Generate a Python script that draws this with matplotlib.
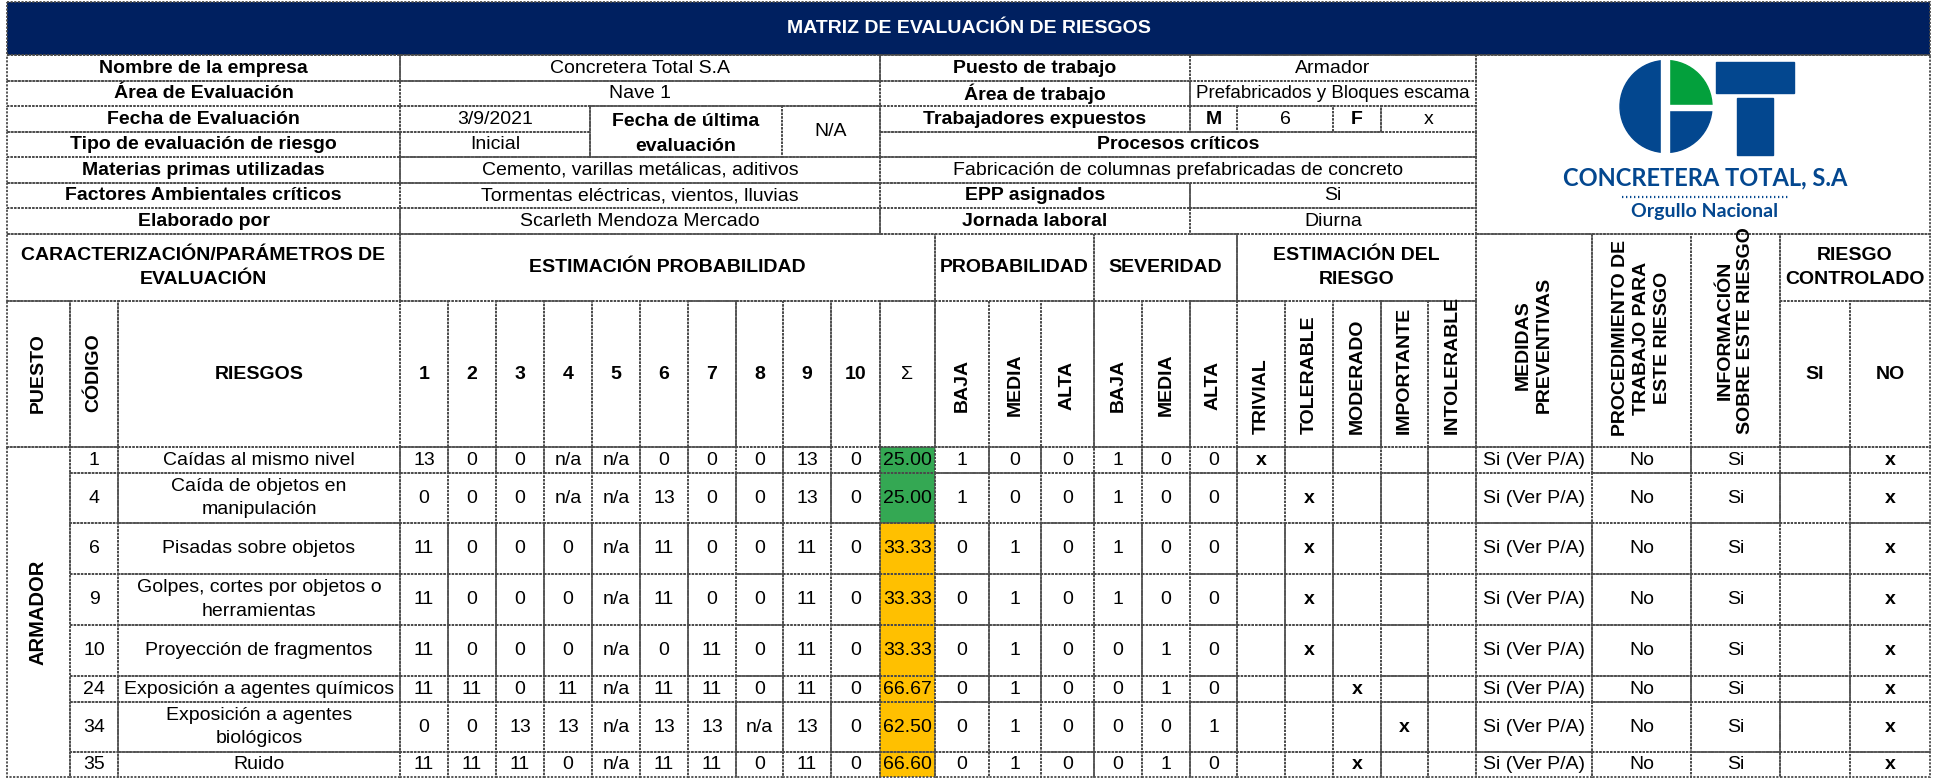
"""
Risk evaluation matrix (Concretera Total S.A) redrawn as a matplotlib table.

Run:
    python plot.py
"""

import matplotlib.pyplot as plt
from matplotlib.patches import Rectangle, Wedge

plt.rcParams["font.family"] = ["Liberation Sans", "DejaVu Sans"]

# ---------------------------------------------------------------- data
title = "MATRIZ DE EVALUACIÓN DE RIESGOS"

info_labels = [
    "Nombre de la empresa",
    "Área de Evaluación",
    "Fecha de Evaluación",
    "Tipo de evaluación de riesgo",
    "Materias primas utilizadas",
    "Factores Ambientales críticos",
    "Elaborado por",
]
info_values = [
    "Concretera Total S.A",
    "Nave 1",
    "3/9/2021",
    "Inicial",
    "Cemento, varillas metálicas, aditivos",
    "Tormentas eléctricas, vientos, lluvias",
    "Scarleth Mendoza Mercado",
]
last_eval_label = ["Fecha de última", "evaluación"]
last_eval_value = "N/A"

job_labels = ["Puesto de trabajo", "Área de trabajo", "Trabajadores expuestos",
              "Procesos críticos", "", "EPP asignados", "Jornada laboral"]
job_values = ["Armador", "Prefabricados y Bloques escama", "", "",
              "Fabricación de columnas prefabricadas de concreto", "Si", "Diurna"]
workers = ["M", "6", "F", "x"]

group_headers = ["CARACTERIZACIÓN/PARÁMETROS DE\nEVALUACIÓN", "ESTIMACIÓN PROBABILIDAD",
                 "PROBABILIDAD", "SEVERIDAD", "ESTIMACIÓN DEL\nRIESGO"]
factor_headers = ["1", "2", "3", "4", "5", "6", "7", "8", "9", "10"]
level_headers = ["BAJA", "MEDIA", "ALTA"]
risk_headers = ["TRIVIAL", "TOLERABLE", "MODERADO", "IMPORTANTE", "INTOLERABLE"]

puesto = "ARMADOR"
codes = [1, 4, 6, 9, 10, 24, 34, 35]
risks = [
    "Caídas al mismo nivel",
    "Caída de objetos en\nmanipulación",
    "Pisadas sobre objetos",
    "Golpes, cortes por objetos o\nherramientas",
    "Proyección de fragmentos",
    "Exposición a agentes químicos",
    "Exposición a agentes\nbiológicos",
    "Ruido",
]
factors = [
    ["13", "0", "0", "n/a", "n/a", "0", "0", "0", "13", "0"],
    ["0", "0", "0", "n/a", "n/a", "13", "0", "0", "13", "0"],
    ["11", "0", "0", "0", "n/a", "11", "0", "0", "11", "0"],
    ["11", "0", "0", "0", "n/a", "11", "0", "0", "11", "0"],
    ["11", "0", "0", "0", "n/a", "0", "11", "0", "11", "0"],
    ["11", "11", "0", "11", "n/a", "11", "11", "0", "11", "0"],
    ["0", "0", "13", "13", "n/a", "13", "13", "n/a", "13", "0"],
    ["11", "11", "11", "0", "n/a", "11", "11", "0", "11", "0"],
]
sigma = [25.00, 25.00, 33.33, 33.33, 33.33, 66.67, 62.50, 66.60]
probability = [0, 0, 1, 1, 1, 1, 1, 1]   # 0 baja, 1 media, 2 alta
severity = [0, 0, 0, 0, 1, 1, 2, 1]
risk_level = [0, 1, 1, 1, 1, 2, 3, 2]    # index into risk_headers
medidas = ["Si (Ver P/A)"] * 8
procedimiento = ["No"] * 8
informacion = ["Si"] * 8
controlado = [False] * 8

# ---------------------------------------------------------------- layout (pixels)
W, H = 1937, 778
LEFT, RIGHT = 7, 1930
INFO_Y = [55, 81, 106, 132, 157, 183, 208, 234]
HEAD_Y = [234, 301, 447]
ROW_Y = [447, 473, 523, 574, 625, 676, 702, 752, 777]
COL_X = [7, 70, 118, 400, 448, 496, 544, 592, 640, 688, 736, 783, 831, 880, 935,
         989, 1041, 1094, 1142, 1190, 1237, 1285, 1333, 1381, 1428, 1476,
         1592, 1691, 1780, 1850, 1930]

NAVY = "#002060"
GREEN = "#34A853"
AMBER = "#FFC000"
LOGO_BLUE = "#03478F"
LOGO_GREEN = "#03A03C"
GRID = dict(edgecolor="#4a4a4a", linewidth=1.3, linestyle=(0, (1.2, 0.8)))
FS = 14
HS = 14

fig = plt.figure(figsize=(W / 100, H / 100), dpi=100)
ax = fig.add_axes([0, 0, 1, 1])
ax.set_xlim(0, W)
ax.set_ylim(H, 0)
ax.axis("off")


def cell(x0, x1, y0, y1, text="", bold=False, size=FS, fill=None, rotation=0,
         va="center", ty=None, color="black", clip=False, spacing=1.5):
    """Draw one bordered cell and its centred text."""
    if fill:
        ax.add_patch(Rectangle((x0, y0), x1 - x0, y1 - y0, facecolor=fill,
                               edgecolor="none", zorder=1))
    box = Rectangle((x0, y0), x1 - x0, y1 - y0, facecolor="none", zorder=2, **GRID)
    ax.add_patch(box)
    if text:
        t = ax.text((x0 + x1) / 2, (y0 + y1) / 2 if ty is None else ty, text,
                    ha="center", va=va, rotation=rotation, fontsize=size,
                    fontweight="bold" if bold else "normal", color=color,
                    multialignment="center", linespacing=spacing, zorder=3)
        if clip:
            t.set_clip_path(Rectangle((x0, y0), x1 - x0, y1 - y0, transform=ax.transData))


# title bar
cell(LEFT, RIGHT, 2, INFO_Y[0], title, bold=True, size=14, fill=NAVY, color="white")

# general information block
for i in range(7):
    y0, y1 = INFO_Y[i], INFO_Y[i + 1]
    cell(LEFT, 400, y0, y1, info_labels[i], bold=True)
    if i in (2, 3):
        cell(400, 590, y0, y1, info_values[i])
    else:
        cell(400, 880, y0, y1, info_values[i])
    if i == 2:
        cell(880, 1190, y0, y1, job_labels[i], bold=True)
        for k, (a, b) in enumerate([(1190, 1237), (1237, 1333), (1333, 1381), (1381, 1476)]):
            cell(a, b, y0, y1, workers[k], bold=k in (0, 2))
    elif i == 3:
        cell(880, 1476, y0, y1, job_labels[i], bold=True)
    elif i == 4:
        cell(880, 1476, y0, y1, job_values[i])
    else:
        cell(880, 1190, y0, y1, job_labels[i], bold=True)
        cell(1190, 1476, y0, y1, job_values[i], size=13.5 if i == 1 else FS)

cell(590, 782, INFO_Y[2], INFO_Y[4])
for k, txt in enumerate(last_eval_label):
    ax.text(686, (INFO_Y[2 + k] + INFO_Y[3 + k]) / 2 + 2, txt, ha="center", va="center",
            fontsize=FS, fontweight="bold", zorder=3)
cell(782, 880, INFO_Y[2], INFO_Y[4], last_eval_value)

# logo cell
cell(1476, RIGHT, INFO_Y[0], INFO_Y[-1])
cx, cy, r = 1666, 106.5, 46
ax.add_patch(Wedge((cx, cy), r, 90, 270, color=LOGO_BLUE, zorder=3))
ax.add_patch(Wedge((cx, cy), r, 270, 360, color=LOGO_GREEN, zorder=3))
ax.add_patch(Wedge((cx, cy), r, 0, 90, color=LOGO_BLUE, zorder=3))
ax.add_patch(Rectangle((cx - 5, cy - r - 2), 8, 2 * r + 4, color="white", zorder=4))
ax.add_patch(Rectangle((cx, cy - 2), r + 3, 5, color="white", zorder=4))
ax.add_patch(Rectangle((1716, 62), 78, 31, color=LOGO_BLUE, zorder=3))
ax.add_patch(Rectangle((1737, 98), 36, 57, color=LOGO_BLUE, zorder=3))
ax.text(1705, 178, "CONCRETERA TOTAL, S.A", ha="center", va="center", fontsize=17,
        fontweight="bold", family=["Lato", "DejaVu Sans"], color=LOGO_BLUE, zorder=3)
ax.plot([1622, 1790], [197, 197], color=LOGO_BLUE, lw=1.6, linestyle=(0, (0.6, 1.2)), zorder=3)
ax.text(1705, 211, "Orgullo Nacional", ha="center", va="center", fontsize=14,
        fontweight="bold", family=["Lato", "DejaVu Sans"], color=LOGO_BLUE, zorder=3)

# header: group row
h0, h1, h2 = HEAD_Y
cell(COL_X[0], COL_X[3], h0, h1, group_headers[0], bold=True, size=HS)
cell(COL_X[3], COL_X[14], h0, h1, group_headers[1], bold=True, size=HS)
cell(COL_X[14], COL_X[17], h0, h1, group_headers[2], bold=True, size=HS)
cell(COL_X[17], COL_X[20], h0, h1, group_headers[3], bold=True, size=HS)
cell(COL_X[20], COL_X[25], h0, h1, group_headers[4], bold=True, size=HS)
cell(COL_X[25], COL_X[26], h0, h2, "MEDIDAS\nPREVENTIVAS", bold=True, size=HS, rotation=90,
     ty=345, spacing=1.3)
cell(COL_X[26], COL_X[27], h0, h2, "PROCEDIMIENTO DE\nTRABAJO PARA\nESTE RIESGO", bold=True,
     size=HS, rotation=90, va="bottom", ty=436, spacing=1.3)
cell(COL_X[27], COL_X[28], h0, h2, "INFORMACIÓN\nSOBRE ESTE RIESGO", bold=True, size=HS,
     rotation=90, va="bottom", ty=434, clip=True, spacing=1.3)
cell(COL_X[28], COL_X[30], h0, h1, "RIESGO\nCONTROLADO", bold=True, size=HS)

# header: column row
cell(COL_X[0], COL_X[1], h1, h2, "PUESTO", bold=True, size=HS, rotation=90, ty=373)
cell(COL_X[1], COL_X[2], h1, h2, "CÓDIGO", bold=True, size=HS, rotation=90, ty=373)
cell(COL_X[2], COL_X[3], h1, h2, "RIESGOS", bold=True, size=HS)
for j, lab in enumerate(factor_headers):
    cell(COL_X[3 + j], COL_X[4 + j], h1, h2, lab, bold=True, size=HS)
cell(COL_X[13], COL_X[14], h1, h2, "Σ", size=HS)
for j, lab in enumerate(level_headers):
    cell(COL_X[14 + j], COL_X[15 + j], h1, h2, lab, bold=True, size=HS, rotation=90, ty=385)
    cell(COL_X[17 + j], COL_X[18 + j], h1, h2, lab, bold=True, size=HS, rotation=90, ty=385)
for j, lab in enumerate(risk_headers):
    cell(COL_X[20 + j], COL_X[21 + j], h1, h2, lab, bold=True, size=HS, rotation=90,
         va="bottom", ty=434)
cell(COL_X[28], COL_X[29], h1, h2, "SI", bold=True, size=HS)
cell(COL_X[29], COL_X[30], h1, h2, "NO", bold=True, size=HS)

# body
cell(COL_X[0], COL_X[1], ROW_Y[0], ROW_Y[-1], puesto, bold=True, size=14.5, rotation=90)
for i in range(len(codes)):
    y0, y1 = ROW_Y[i], ROW_Y[i + 1]
    cell(COL_X[1], COL_X[2], y0, y1, str(codes[i]))
    cell(COL_X[2], COL_X[3], y0, y1, risks[i])
    for j, val in enumerate(factors[i]):
        cell(COL_X[3 + j], COL_X[4 + j], y0, y1, val)
    fill = GREEN if sigma[i] < 30 else AMBER
    cell(COL_X[13], COL_X[14], y0, y1, f"{sigma[i]:.2f}", fill=fill)
    for j in range(3):
        cell(COL_X[14 + j], COL_X[15 + j], y0, y1, "1" if probability[i] == j else "0")
        cell(COL_X[17 + j], COL_X[18 + j], y0, y1, "1" if severity[i] == j else "0")
    for j in range(5):
        cell(COL_X[20 + j], COL_X[21 + j], y0, y1, "x" if risk_level[i] == j else "", bold=True)
    cell(COL_X[25], COL_X[26], y0, y1, medidas[i])
    cell(COL_X[26], COL_X[27], y0, y1, procedimiento[i])
    cell(COL_X[27], COL_X[28], y0, y1, informacion[i])
    cell(COL_X[28], COL_X[29], y0, y1, "x" if controlado[i] else "", bold=True)
    cell(COL_X[29], COL_X[30], y0, y1, "" if controlado[i] else "x", bold=True)

fig.savefig("out.png", dpi=100)
plt.close(fig)
